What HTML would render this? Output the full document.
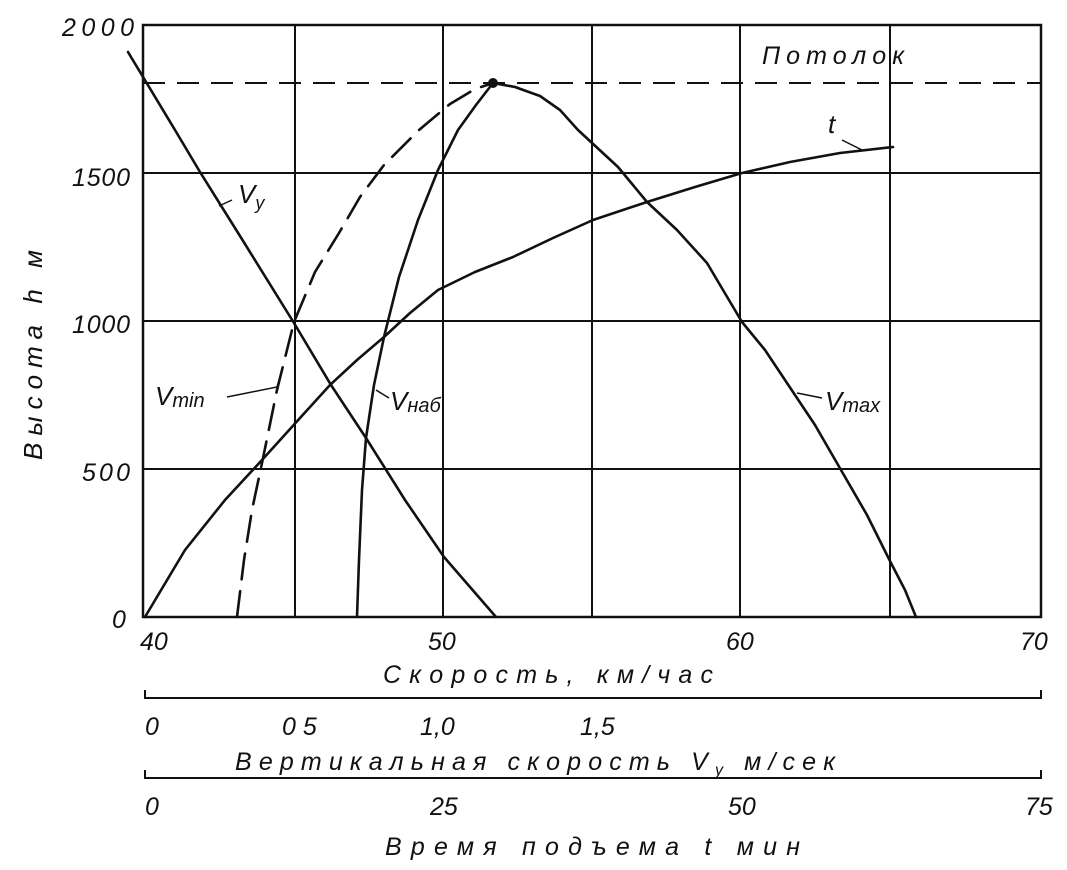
<!DOCTYPE html>
<html><head><meta charset="utf-8"><style>
body{margin:0;background:#fff}
svg text{font-family:"Liberation Sans","DejaVu Sans",sans-serif;font-style:italic;fill:#111}
</style></head><body>
<svg width="1067" height="865" viewBox="0 0 1067 865" xmlns="http://www.w3.org/2000/svg">
<g stroke="#111" stroke-width="2" fill="none">
<rect x="143" y="25" width="898" height="592" stroke-width="2.5"/>
<line x1="295" y1="25" x2="295" y2="617"/>
<line x1="443" y1="25" x2="443" y2="617"/>
<line x1="592" y1="25" x2="592" y2="617"/>
<line x1="740" y1="25" x2="740" y2="617"/>
<line x1="890" y1="25" x2="890" y2="617"/>
<line x1="143" y1="173" x2="1041" y2="173"/>
<line x1="143" y1="321" x2="1041" y2="321"/>
<line x1="143" y1="469" x2="1041" y2="469"/>
<line x1="143" y1="83" x2="1041" y2="83" stroke-dasharray="22,12"/>
<g stroke-width="2.6" stroke-linejoin="round" stroke-linecap="round">
<polyline points="128,52 175,130 200,172 240,236 294,323 331,385 366,438 405,500 444,557 496,617"/>
<polyline points="237,617 244,560 252,510 262,463 277,390 294,322 315,272 339,233 360,197 384,165 419,130 450,104 475,89 493,83" stroke-dasharray="26,12"/>
<polyline points="357,617 359,560 362,490 366,438 374,385 384,337 399,277 418,220 438,170 458,130 476,105 493,83"/>
<polyline points="493,83 515,87 540,96 560,110 578,130 618,167 647,202 677,230 707,263 742,322 765,350 787,383 815,425 841,470 867,515 891,563 905,590 916,617"/>
<polyline points="145,617 185,550 225,500 262,460 300,418 330,385 357,360 384,337 410,313 438,290 475,272 513,257 553,238 593,220 647,202 695,187 742,173 790,162 840,153 893,147"/>
</g>
<line x1="232" y1="200" x2="219" y2="206" stroke-width="1.5"/>
<path d="M227,397 L277,387 L280,377" stroke-width="1.5"/>
<line x1="376" y1="390" x2="389" y2="398" stroke-width="1.5"/>
<line x1="797" y1="393" x2="822" y2="398" stroke-width="1.5"/>
<line x1="842" y1="140" x2="862" y2="150" stroke-width="1.5"/>
<path d="M145,690 L145,698 L1041,698 L1041,690"/>
<path d="M145,770 L145,778 L1041,778 L1041,770"/>
</g>
<circle cx="493" cy="83" r="5" fill="#111"/>
<g font-size="25">
<text x="62" y="36" textLength="72">2000</text>
<text x="72" y="186" textLength="58">1500</text>
<text x="72" y="333" textLength="58">1000</text>
<text x="82" y="481" textLength="48">500</text>
<text x="112" y="628">0</text>
<text x="140" y="650">40</text>
<text x="428" y="650">50</text>
<text x="726" y="650">60</text>
<text x="1020" y="650">70</text>
<text x="383" y="683" textLength="330">Скорость, км/час</text>
<text x="145" y="735">0</text>
<text x="282" y="735">0 5</text>
<text x="420" y="735">1,0</text>
<text x="580" y="735">1,5</text>
<text x="235" y="770" textLength="600">Вертикальная  скорость V<tspan font-size="16" dy="5">y</tspan><tspan dy="-5"> м/сек</tspan></text>
<text x="145" y="815">0</text>
<text x="430" y="815">25</text>
<text x="728" y="815">50</text>
<text x="1025" y="815">75</text>
<text x="385" y="855" textLength="415">Время  подъема t мин</text>
<text x="762" y="64" textLength="142">Потолок</text>
<text x="828" y="133" font-size="26">t</text>
<text x="238" y="203" font-size="26">V<tspan font-size="18" dy="6">y</tspan></text>
<text x="155" y="405" font-size="26">V<tspan font-size="20" dy="2">min</tspan></text>
<text x="390" y="410" font-size="26">V<tspan font-size="20" dy="2">наб</tspan></text>
<text x="825" y="410" font-size="26">V<tspan font-size="20" dy="2">max</tspan></text>
<text transform="translate(42,460) rotate(-90)" font-size="26" textLength="210">Высота  h  м</text>
</g>
</svg>
</body></html>
